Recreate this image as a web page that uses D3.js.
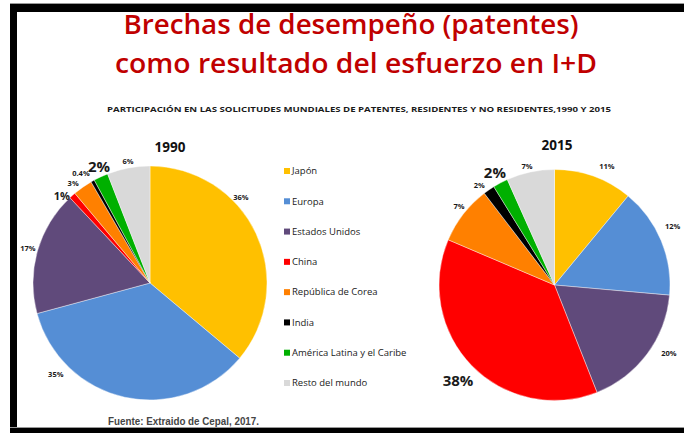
<html>
<head>
<meta charset="utf-8">
<script src="https://d3js.org/d3.v7.min.js"></script>
<style>
  body { margin: 0; background: #fff; }
  svg { display: block; }
  text { font-family: "Open Sans", "Noto Sans", sans-serif; }
  text.note { font-family: "Liberation Sans", Arial, sans-serif; }
</style>
</head>
<body>
<svg id="chart" width="684" height="433"></svg>
<script>
// categories, colours and values
const categories = ["Japón", "Europa", "Estados Unidos", "China", "República de Corea",
                    "India", "América Latina y el Caribe", "Resto del mundo"];
const colors = ["#ffc000", "#558ed5", "#604a7b", "#ff0000", "#ff8000",
                "#000000", "#00b000", "#d9d9d9"];

// slice sizes (as drawn) and the label text printed next to each slice
const values1990 = [36.1, 34.7, 17.2, 0.9, 2.7, 0.5, 2.0, 5.9];
const labels1990 = ["36%", "35%", "17%", "1%", "3%", "0.4%", "2%", "6%"];
const values2015 = [11.0, 15.4, 17.6, 37.4, 8.2, 1.6, 2.1, 6.7];
const labels2015 = ["11%", "12%", "20%", "38%", "7%", "2%", "2%", "7%"];

// label placement: [angle in degrees from top, distance from centre], font size
const labelPos1990 = [[46.6, 125], [226, 131], [286, 127], [314.7, 124], [322.4, 126], [327.9, 130], [336.3, 127], [349.8, 124]];
const labelSize1990 = [7.5, 7.5, 7.5, 11, 7.5, 7.5, 15, 7.5];
const labelPos2015 = [[23.8, 130], [63.5, 132], [120.7, 133], [225.2, 136], [309.6, 124], [323, 125], [332, 127], [347, 122]];
const labelSize2015 = [7.5, 7.5, 7.5, 15, 7.5, 7.5, 15, 7.5];

const svg = d3.select("#chart");

// frame: thin grey line + black bars on top, left and bottom
svg.append("rect").attr("x", 10).attr("y", 3).attr("width", 674).attr("height", 1).attr("fill", "#999");
svg.append("rect").attr("x", 10).attr("y", 4).attr("width", 674).attr("height", 8).attr("fill", "#000");
svg.append("rect").attr("x", 10).attr("y", 4).attr("width", 7).attr("height", 429).attr("fill", "#000");
svg.append("rect").attr("x", 10).attr("y", 427).attr("width", 674).attr("height", 1).attr("fill", "#999");
svg.append("rect").attr("x", 10).attr("y", 428).attr("width", 674).attr("height", 5).attr("fill", "#000");

// titles
svg.append("text").attr("x", 351).attr("y", 34).attr("text-anchor", "middle")
  .attr("font-size", 27).attr("font-weight", 600).attr("fill", "#c00000")
  .attr("textLength", 455).attr("lengthAdjust", "spacingAndGlyphs")
  .text("Brechas de desempeño (patentes)");
svg.append("text").attr("x", 356).attr("y", 73).attr("text-anchor", "middle")
  .attr("font-size", 27).attr("font-weight", 600).attr("fill", "#c00000")
  .attr("textLength", 482).attr("lengthAdjust", "spacingAndGlyphs")
  .text("como resultado del esfuerzo en I+D");
svg.append("text").attr("x", 107).attr("y", 112)
  .attr("font-size", 7.5).attr("font-weight", "bold").attr("fill", "#1a1a1a")
  .attr("textLength", 504).attr("lengthAdjust", "spacingAndGlyphs")
  .text("PARTICIPACIÓN EN LAS SOLICITUDES MUNDIALES DE PATENTES, RESIDENTES Y NO RESIDENTES,1990 Y 2015");

function drawPie(cx, cy, r, values, labels, pos, sizes, year, yearX, yearY) {
  const pie = d3.pie().sort(null).value(d => d);
  const arc = d3.arc().innerRadius(0).outerRadius(r);
  const g = svg.append("g").attr("transform", `translate(${cx},${cy})`);
  g.selectAll("path")
    .data(pie(values))
    .join("path")
    .attr("d", arc)
    .attr("fill", (d, i) => colors[i])
    .attr("stroke", "#fff")
    .attr("stroke-width", 0.4);

  g.selectAll("text.lbl")
    .data(labels)
    .join("text")
    .attr("class", "lbl")
    .attr("x", (d, i) => pos[i][1] * Math.sin(pos[i][0] * Math.PI / 180))
    .attr("y", (d, i) => -pos[i][1] * Math.cos(pos[i][0] * Math.PI / 180))
    .attr("dy", "0.35em")
    .attr("text-anchor", "middle")
    .attr("font-size", (d, i) => sizes[i])
    .attr("font-weight", "bold")
    .attr("fill", "#1a1a1a")
    .text(d => d);

  svg.append("text").attr("x", yearX).attr("y", yearY).attr("text-anchor", "middle")
    .attr("font-size", 13.5).attr("font-weight", "bold").attr("fill", "#111")
    .text(year);
}

drawPie(150, 283, 117, values1990, labels1990, labelPos1990, labelSize1990, "1990", 170, 152);
drawPie(554.5, 285, 115.5, values2015, labels2015, labelPos2015, labelSize2015, "2015", 557, 150);

// legend
const legendY = d3.scalePoint().domain(categories).range([171, 383]);
const legend = svg.append("g");
legend.selectAll("rect")
  .data(categories)
  .join("rect")
  .attr("x", 284)
  .attr("y", d => legendY(d) - 3)
  .attr("width", 6)
  .attr("height", 6)
  .attr("fill", (d, i) => colors[i]);
legend.selectAll("text")
  .data(categories)
  .join("text")
  .attr("x", 292)
  .attr("y", d => legendY(d))
  .attr("dy", "0.35em")
  .attr("font-size", 9.5)
  .attr("fill", "#1a1a1a")
  .text(d => d);

// source note
svg.append("text").attr("class", "note").attr("x", 108).attr("y", 425)
  .attr("font-size", 10).attr("font-weight", "bold").attr("fill", "#444")
  .attr("textLength", 151).attr("lengthAdjust", "spacingAndGlyphs")
  .text("Fuente: Extraido de Cepal, 2017.");
</script>
</body>
</html>
